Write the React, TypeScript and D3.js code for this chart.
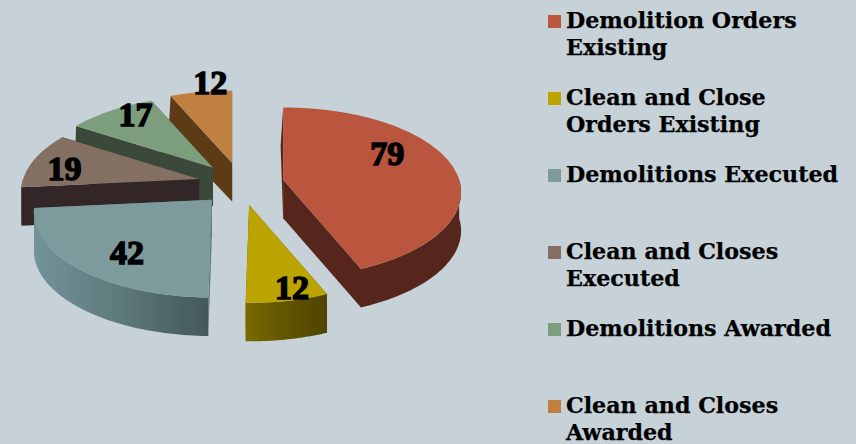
import React from "react";
import * as d3 from "d3";

const categories = [
  ["Demolition Orders", "Existing"],
  ["Clean and Close", "Orders Existing"],
  ["Demolitions Executed"],
  ["Clean and Closes", "Executed"],
  ["Demolitions Awarded"],
  ["Clean and Closes", "Awarded"],
];
const values = [79, 12, 42, 19, 17, 12];
const topColors = ["#B9573D", "#BBA300", "#7D9A9C", "#836F64", "#7C9E7D", "#BF803F"];
const wallColors = ["#56261A", "url(#yellowWall)", "url(#tealWall)", "#322725", "#3A4A3B", "#5C3A18"];
const labelNudges = [[-13, -15], [16, 15], [8, 4], [-19, 3], [-6, -13], [0, -31]];
const paintOrder = [5, 4, 3, 0, 1, 2];

const W = 856, H = 444;
const CX = 241, CY = 184, EXPLODE = 43, EXPLODE_Y = 0.5;
const RX = 176, RY = 85, PERSP = 0.15, DEPTH = 38.5, BACK_SKEW = 0.035;
const FONT_LABEL = "'Liberation Serif', serif";
const FONT_LEGEND = "'DejaVu Serif', serif";

const pieGen = d3.pie<number>().sort(null).value((d) => d);
const arcs = pieGen(values);

type P = [number, number];
const project = (t: number, r: number, o: P): P => {
  const f = 1 - PERSP * Math.cos(t);
  return [o[0] + RX * Math.sin(t) * f * r, o[1] - RY * Math.cos(t) * f * r];
};
const drop = (p: P, o: P): P => {
  const back = Math.min(0, p[1] - o[1]);
  return [p[0] + back * BACK_SKEW, p[1] + DEPTH];
};
const rimPoints = (a: number, b: number, o: P): P[] =>
  d3.range(0, 61).map((i) => project(a + ((b - a) * i) / 60, 1, o));
const line = d3.line<P>();

const legendY = d3.scaleLinear().domain([0, 5]).range([15, 400]);

export default function App() {
  return (
    <svg
      width={W}
      height={H}
      style={{ position: "fixed", left: 0, top: 0, display: "block", background: "#C6D1D8" }}
    >
      <defs>
        <linearGradient id="tealWall" x1="0" x2="1" y1="0" y2="0">
          <stop offset="0" stopColor="#74939A" />
          <stop offset="0.45" stopColor="#607C7E" />
          <stop offset="1" stopColor="#43585A" />
        </linearGradient>
        <linearGradient id="yellowWall" x1="0" x2="1" y1="0" y2="0">
          <stop offset="0" stopColor="#7A6A00" />
          <stop offset="0.4" stopColor="#665800" />
          <stop offset="1" stopColor="#4E4400" />
        </linearGradient>
        <filter id="soft" x="-5%" y="-5%" width="110%" height="110%">
          <feGaussianBlur stdDeviation="0.6" />
        </filter>
      </defs>
      <g filter="url(#soft)">
        {paintOrder.map((i) => {
          const d = arcs[i];
          const mid = (d.startAngle + d.endAngle) / 2;
          const o: P = [
            CX + EXPLODE * Math.sin(mid),
            CY - EXPLODE * EXPLODE_Y * Math.cos(mid),
          ];
          const rim = rimPoints(d.startAngle, d.endAngle, o);
          const a0 = rim[0];
          const a1 = rim[rim.length - 1];
          const oB = drop(o, o);
          const wall = (pts: P[]) => line([...pts, ...pts.slice().reverse().map((p) => drop(p, o))])! + "Z";
          const frontA = Math.max(d.startAngle, Math.PI / 2);
          const frontB = Math.min(d.endAngle, (3 * Math.PI) / 2);
          return (
            <g key={i}>
              <path d={line([o, a0, drop(a0, o), oB])! + "Z"} fill={i === 2 ? "#5F7A7C" : wallColors[i]} />
              <path d={line([o, a1, drop(a1, o), oB])! + "Z"} fill={i === 2 ? "#5F7A7C" : wallColors[i]} />
              {frontB > frontA && <path d={wall(rimPoints(frontA, frontB, o))} fill={wallColors[i]} />}
              <path d={line([o, ...rim])! + "Z"} fill={topColors[i]} />
            </g>
          );
        })}
      </g>
      {arcs.map((d, i) => {
        const mid = (d.startAngle + d.endAngle) / 2;
        const o: P = [
          CX + EXPLODE * Math.sin(mid),
          CY - EXPLODE * EXPLODE_Y * Math.cos(mid),
        ];
        const p = project(mid, 0.7, o);
        return (
          <text
            key={i}
            x={p[0] + labelNudges[i][0]}
            y={p[1] + labelNudges[i][1]}
            dy="0.34em"
            textAnchor="middle"
            fontFamily={FONT_LABEL}
            fontWeight="bold"
            fontSize={34}
            fill="#000"
            stroke="#000"
            strokeWidth={1.5}
          >
            {values[i]}
          </text>
        );
      })}
      {categories.map((lines, i) => (
        <g key={i}>
          <rect x={548} y={legendY(i)} width={13} height={13} fill={topColors[i]} />
          {lines.map((t, j) => (
            <text
              key={j}
              x={566}
              y={legendY(i) + 13 + j * 27}
              fontFamily={FONT_LEGEND}
              fontWeight="bold"
              fontSize={22.2}
              fill="#000"
              stroke="#000"
              strokeWidth={0.25}
            >
              {t}
            </text>
          ))}
        </g>
      ))}
    </svg>
  );
}
